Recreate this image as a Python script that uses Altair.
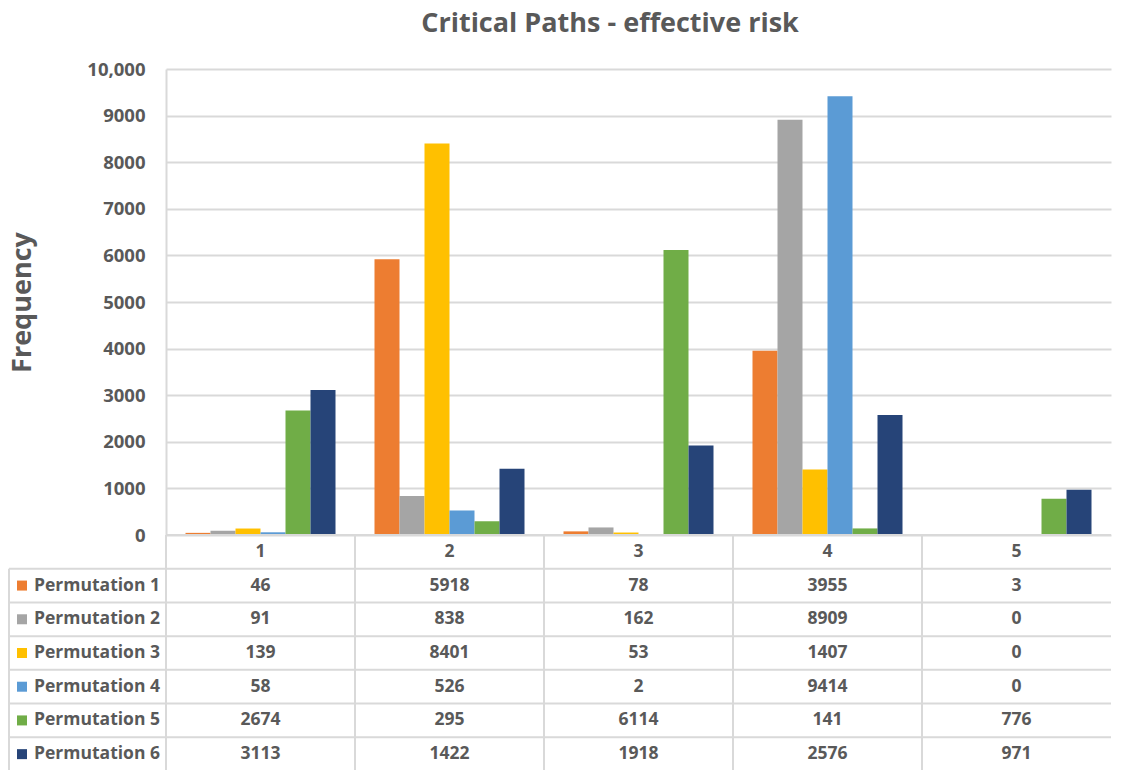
import altair as alt
import pandas as pd

categories = ["1", "2", "3", "4", "5"]
series = ["Permutation 1", "Permutation 2", "Permutation 3",
          "Permutation 4", "Permutation 5", "Permutation 6"]
p1 = [46, 5918, 78, 3955, 3]
p2 = [91, 838, 162, 8909, 0]
p3 = [139, 8401, 53, 1407, 0]
p4 = [58, 526, 2, 9414, 0]
p5 = [2674, 295, 6114, 141, 776]
p6 = [3113, 1422, 1918, 2576, 971]
colors = ["#ED7D31", "#A5A5A5", "#FFC000", "#5B9BD5", "#70AD47", "#264478"]
y_ticks = [0, 1000, 2000, 3000, 4000, 5000, 6000, 7000, 8000, 9000, 10000]

values = [p1, p2, p3, p4, p5, p6]
rows = []
for s, vals in zip(series, values):
    for c, v in zip(categories, vals):
        rows.append({"cat": c, "series": s, "value": v, "row": s})
df = pd.DataFrame(rows)
hdr_df = pd.DataFrame({"cat": categories, "row": ["hdr"] * len(categories)})
leg_df = pd.DataFrame({"series": series, "row": series})
hline_df = pd.DataFrame({"row": series})

FONT = "Open Sans"
TXT = "#595959"
GRID = "#D9D9D9"
W = 945
H = 466
HT = 236

xscale = alt.Scale(domain=categories, paddingInner=0, paddingOuter=0)
cscale = alt.Scale(domain=series, range=colors)

bars = alt.Chart(df).mark_bar().encode(
    x=alt.X("cat:N", scale=xscale, axis=None),
    xOffset=alt.XOffset("series:N", scale=alt.Scale(domain=series, paddingInner=0, paddingOuter=0.78)),
    y=alt.Y("value:Q", scale=alt.Scale(domain=[0, 10000], nice=False),
            axis=alt.Axis(values=y_ticks, title="Frequency",
                          labelExpr="datum.value == 10000 ? '10,000' : '' + datum.value",
                          labelFont=FONT, labelFontSize=18.5, labelFontWeight="bold", labelColor=TXT,
                          labelPadding=21, ticks=False,
                          domain=True, domainColor=GRID, domainWidth=2,
                          grid=True, gridColor=GRID, gridWidth=2,
                          titleFont=FONT, titleFontSize=27, titleFontWeight="bold", titleColor=TXT,
                          titlePadding=50)),
    color=alt.Color("series:N", scale=cscale, legend=None),
).properties(width=W, height=H)

yscale = alt.Scale(domain=["hdr"] + series, paddingInner=0, paddingOuter=0)

vgrid = alt.Chart(hdr_df).mark_rule(color=GRID, strokeWidth=2).encode(
    x=alt.X("cat:N", scale=xscale, bandPosition=0, axis=None),
    y=alt.value(0), y2=alt.value(HT),
)
hlines = alt.Chart(hline_df).mark_rule(color=GRID, strokeWidth=2).encode(
    y=alt.Y("row:N", scale=yscale, bandPosition=0, axis=None),
    x=alt.value(-157), x2=alt.value(W),
)
hdr_top = alt.Chart(hdr_df).mark_rule(color=GRID, strokeWidth=2).encode(
    y=alt.Y("row:N", scale=yscale, bandPosition=0, axis=None),
    x=alt.value(0), x2=alt.value(W),
)
left_line = alt.Chart(hline_df.head(1)).mark_rule(color=GRID, strokeWidth=2).encode(
    y=alt.Y("row:N", scale=yscale, bandPosition=0, axis=None),
    y2=alt.value(HT),
    x=alt.value(-157),
)
hdr_text = alt.Chart(hdr_df).mark_text(font=FONT, fontSize=17.5, fontWeight="bold", color=TXT,
                                       baseline="middle", align="center").encode(
    x=alt.X("cat:N", scale=xscale, axis=None),
    y=alt.Y("row:N", scale=yscale, axis=None),
    text="cat:N",
)
val_text = alt.Chart(df).mark_text(font=FONT, fontSize=17.5, fontWeight="bold", color=TXT,
                                   baseline="middle", align="center").encode(
    x=alt.X("cat:N", scale=xscale, axis=None),
    y=alt.Y("row:N", scale=yscale, axis=None),
    text="value:Q",
)
leg_text = alt.Chart(leg_df).mark_text(font=FONT, fontSize=17.5, fontWeight="bold", color=TXT,
                                       baseline="middle", align="left").encode(
    x=alt.value(-132),
    y=alt.Y("row:N", scale=yscale, axis=None),
    text="series:N",
)
leg_sq = alt.Chart(leg_df).mark_square(size=100, opacity=1).encode(
    x=alt.value(-144),
    y=alt.Y("row:N", scale=yscale, axis=None),
    color=alt.Color("series:N", scale=cscale, legend=None),
)

table = alt.layer(vgrid, hlines, hdr_top, left_line, hdr_text, val_text, leg_text, leg_sq).properties(
    width=W, height=HT)

chart = alt.vconcat(bars, table, spacing=0, bounds="flush").properties(
    title=alt.TitleParams("Critical Paths - effective risk", font=FONT, fontSize=27, fontWeight="bold",
                          color=TXT, anchor="middle", dx=50, offset=22),
    padding={"left": 0, "top": 2, "right": 5, "bottom": 0},
).configure_view(stroke=None)

chart.save("out.html", embed_options={"renderer": "svg", "actions": False})
